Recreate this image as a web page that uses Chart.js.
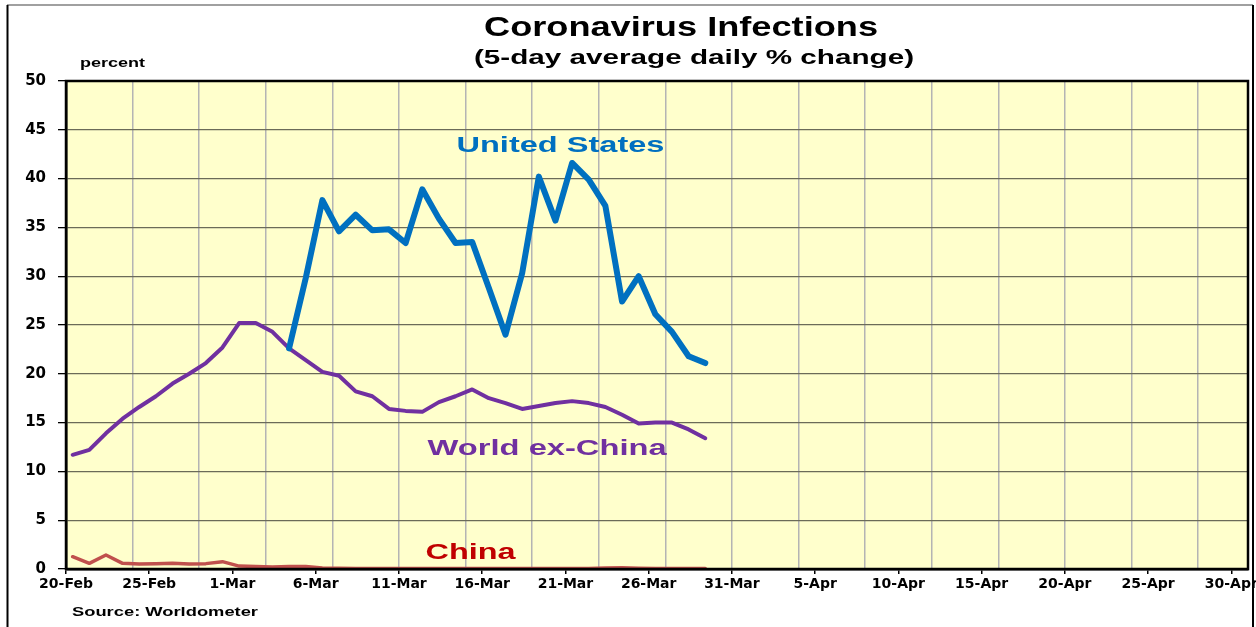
<!DOCTYPE html>
<html lang="en">
<head>
    <meta charset="UTF-8">
    <title>Coronavirus Infections</title>
    <script src="https://cdn.jsdelivr.net/npm/chart.js"></script>
    <style>
        body {
            margin: 0;
            background: #ffffff;
        }
        .wrap {
            width: 1256px;
            height: 627px;
            position: relative;
        }
    </style>
</head>
<body>
    <div class="wrap">
        <canvas id="chart" width="1256" height="627"></canvas>
    </div>

    <script>
        // data, one value per day starting 20-Feb
        const dates = ['20-Feb', '21-Feb', '22-Feb', '23-Feb', '24-Feb', '25-Feb', '26-Feb', '27-Feb', '28-Feb', '29-Feb',
            '1-Mar', '2-Mar', '3-Mar', '4-Mar', '5-Mar', '6-Mar', '7-Mar', '8-Mar', '9-Mar', '10-Mar',
            '11-Mar', '12-Mar', '13-Mar', '14-Mar', '15-Mar', '16-Mar', '17-Mar', '18-Mar', '19-Mar', '20-Mar',
            '21-Mar', '22-Mar', '23-Mar', '24-Mar', '25-Mar', '26-Mar', '27-Mar', '28-Mar', '29-Mar'];

        const usStart = 13; // US series begins 4-Mar
        const unitedStates = [22.6, 29.8, 37.8, 34.6, 36.3, 34.7, 34.8, 33.4, 38.9, 35.9, 33.4, 33.5, 28.8,
            24.0, 30.3, 40.2, 35.7, 41.6, 39.9, 37.2, 27.4, 30.0, 26.1, 24.3, 21.8, 21.1];

        const worldExChina = [11.7, 12.2, 13.9, 15.4, 16.6, 17.7, 19.0, 20.0, 21.1, 22.7,
            25.2, 25.2, 24.3, 22.6, 21.4, 20.2, 19.8, 18.2, 17.7, 16.4,
            16.2, 16.1, 17.1, 17.7, 18.4, 17.5, 17.0, 16.4, 16.7, 17.0,
            17.2, 17.0, 16.6, 15.8, 14.9, 15.0, 15.0, 14.3, 13.4];

        const china = [1.26, 0.58, 1.43, 0.58, 0.5, 0.55, 0.6, 0.5, 0.55, 0.75,
            0.3, 0.25, 0.2, 0.25, 0.25, 0.1, 0.08, 0.05, 0.05, 0.05,
            0.05, 0.05, 0.05, 0.05, 0.05, 0.05, 0.05, 0.05, 0.05, 0.05,
            0.05, 0.05, 0.1, 0.12, 0.08, 0.05, 0.05, 0.05, 0.05];

        // axis labels (every 5 days from 20-Feb)
        const tickLabels = ['20-Feb', '25-Feb', '1-Mar', '6-Mar', '11-Mar', '16-Mar', '21-Mar', '26-Mar',
            '31-Mar', '5-Apr', '10-Apr', '15-Apr', '20-Apr', '25-Apr', '30-Apr'];
        const tickDays = [0, 5, 10, 15, 20, 25, 30, 35, 40, 45, 50, 55, 60, 65, 70];
        const gridDays = [4, 8, 12, 16, 20, 24, 28, 32, 36, 40, 44, 48, 52, 56, 60, 64, 68];
        const yTicks = [0, 5, 10, 15, 20, 25, 30, 35, 40, 45, 50];

        const lastDay = 71;      // axis runs to 1-May
        const pointOffset = 0.4; // excel plots each day a bit right of the tick

        function toPoints(values, start) {
            return values.map((v, i) => ({ x: start + i + pointOffset, y: v }));
        }

        const FONT = '"DejaVu Sans", Arial, sans-serif';

        // draws bold text stretched to a given width
        function stretchText(ctx, text, x, y, size, width, color, align) {
            ctx.save();
            ctx.font = 'bold ' + size + 'px Arial, "Liberation Sans", sans-serif';
            ctx.fillStyle = color;
            ctx.textBaseline = 'alphabetic';
            ctx.textAlign = align;
            const natural = ctx.measureText(text).width;
            ctx.translate(x, y);
            ctx.scale(width / natural, 1);
            ctx.fillText(text, 0, 0);
            ctx.restore();
        }

        const frameAndText = {
            id: 'frameAndText',
            beforeDraw(chart) {
                const ctx = chart.ctx;
                const a = chart.chartArea;
                ctx.save();
                ctx.fillStyle = '#ffffcc';
                ctx.fillRect(a.left, a.top, a.right - a.left, a.bottom - a.top);
                // outer frame
                ctx.lineWidth = 1.5;
                ctx.strokeStyle = '#808080';
                ctx.beginPath();
                ctx.moveTo(7, 5);
                ctx.lineTo(1253, 5);
                ctx.stroke();
                ctx.strokeStyle = '#000000';
                ctx.lineWidth = 2;
                ctx.beginPath();
                ctx.moveTo(7.5, 5);
                ctx.lineTo(7.5, 627);
                ctx.moveTo(1253, 5);
                ctx.lineTo(1253, 627);
                ctx.stroke();
                ctx.restore();
            },
            afterDatasetsDraw(chart) {
                const ctx = chart.ctx;
                const a = chart.chartArea;
                ctx.save();
                ctx.strokeStyle = '#000000';
                ctx.lineWidth = 2.5;
                ctx.strokeRect(a.left, a.top, a.right - a.left, a.bottom - a.top);
                ctx.restore();

                stretchText(ctx, 'Coronavirus Infections', 681, 36, 27, 394, '#000000', 'center');
                stretchText(ctx, '(5-day average daily % change)', 694, 64, 20, 440, '#000000', 'center');
                stretchText(ctx, 'percent', 80, 67, 12, 65, '#000000', 'left');
                stretchText(ctx, 'Source: Worldometer', 72, 616, 13, 186, '#000000', 'left');

                const xs = chart.scales.x;
                const ys = chart.scales.y;
                stretchText(ctx, 'United States', xs.getPixelForValue(29.7), ys.getPixelForValue(42.7), 22, 208, '#0070c0', 'center');
                stretchText(ctx, 'World ex-China', xs.getPixelForValue(28.9), ys.getPixelForValue(11.7), 22, 239, '#7030a0', 'center');
                stretchText(ctx, 'China', xs.getPixelForValue(24.3), ys.getPixelForValue(1.0), 22, 90, '#c00000', 'center');
            }
        };

        const ctx = document.getElementById('chart').getContext('2d');
        new Chart(ctx, {
            type: 'line',
            data: {
                datasets: [{
                    label: 'United States',
                    data: toPoints(unitedStates, usStart),
                    borderColor: '#0070c0',
                    borderWidth: 6,
                    pointRadius: 0,
                    tension: 0,
                    borderCapStyle: 'round',
                    borderJoinStyle: 'round'
                }, {
                    label: 'World ex-China',
                    data: toPoints(worldExChina, 0),
                    borderColor: '#7030a0',
                    borderWidth: 4,
                    pointRadius: 0,
                    tension: 0,
                    borderCapStyle: 'round',
                    borderJoinStyle: 'round'
                }, {
                    label: 'China',
                    data: toPoints(china, 0),
                    borderColor: '#c0504d',
                    borderWidth: 3.5,
                    pointRadius: 0,
                    tension: 0,
                    borderCapStyle: 'round',
                    borderJoinStyle: 'round'
                }]
            },
            options: {
                responsive: false,
                animation: false,
                layout: {
                    padding: { top: 81, right: 8, left: 0, bottom: 0 }
                },
                plugins: {
                    legend: { display: false },
                    tooltip: { enabled: false }
                },
                scales: {
                    x: {
                        type: 'linear',
                        position: 'bottom',
                        min: 0,
                        max: lastDay,
                        afterBuildTicks(scale) {
                            scale.ticks = tickDays.map(v => ({ value: v }));
                        },
                        afterFit(scale) {
                            scale.height = 58;
                            scale.paddingLeft = 0;
                            scale.paddingRight = 0;
                        },
                        grid: {
                            drawOnChartArea: false,
                            drawTicks: true,
                            tickLength: 5,
                            color: '#000000',
                            lineWidth: 1.5
                        },
                        border: { display: true, color: '#000000', width: 2.5 },
                        ticks: {
                            autoSkip: false,
                            maxRotation: 0,
                            padding: 2,
                            color: '#000000',
                            font: { family: FONT, size: 14, weight: 'bold' },
                            callback(value) {
                                const i = tickDays.indexOf(value);
                                return i >= 0 ? tickLabels[i] : '';
                            }
                        }
                    },
                    xGrid: {
                        type: 'linear',
                        position: 'top',
                        min: 0,
                        max: lastDay,
                        afterBuildTicks(scale) {
                            scale.ticks = gridDays.map(v => ({ value: v }));
                        },
                        afterFit(scale) {
                            scale.height = 0;
                            scale.paddingLeft = 0;
                            scale.paddingRight = 0;
                        },
                        grid: {
                            drawOnChartArea: true,
                            drawTicks: false,
                            color: '#b4b4b4',
                            lineWidth: 1.5
                        },
                        border: { display: false },
                        ticks: { display: false }
                    },
                    y: {
                        min: 0,
                        max: 50,
                        afterBuildTicks(scale) {
                            scale.ticks = yTicks.map(v => ({ value: v }));
                        },
                        afterFit(scale) {
                            scale.width = 66;
                        },
                        grid: {
                            color: '#6b6b58',
                            lineWidth: 1.3,
                            tickLength: 8,
                            tickColor: '#000000'
                        },
                        border: { display: true, color: '#000000', width: 2.5 },
                        ticks: {
                            padding: 12,
                            color: '#000000',
                            font: { family: FONT, size: 15, weight: 'bold' }
                        }
                    }
                }
            },
            plugins: [frameAndText]
        });
    </script>
</body>
</html>
